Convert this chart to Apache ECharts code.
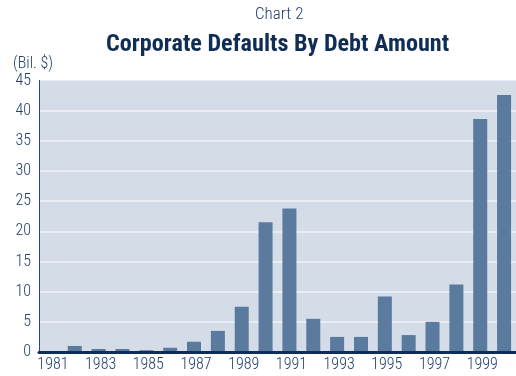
<!DOCTYPE html>
<html>
<head>
<meta charset="utf-8">
<script src="https://cdn.jsdelivr.net/npm/echarts@6/dist/echarts.min.js"></script>
<style>
  html, body { margin: 0; padding: 0; background: #ffffff; }
  #chart { width: 516px; height: 376px; }
</style>
</head>
<body>
<div id="chart"></div>
<script>
// Corporate defaults by debt amount, billions of dollars, 1981-2000
const years = ['1981','1982','1983','1984','1985','1986','1987','1988','1989','1990',
               '1991','1992','1993','1994','1995','1996','1997','1998','1999','2000'];
const defaults = [0, 1.0, 0.5, 0.5, 0.3, 0.7, 1.7, 3.5, 7.5, 21.5,
                  23.8, 5.5, 2.5, 2.5, 9.2, 2.8, 5.0, 11.2, 38.6, 42.6];
const yTicks = [0, 5, 10, 15, 20, 25, 30, 35, 40, 45];

const FONT = '"Roboto Condensed", "DejaVu Sans Condensed", sans-serif';
const NAVY = '#0f2d55';
const TEXT = '#24406a';

const chart = echarts.init(document.getElementById('chart'), null, { renderer: 'canvas' });
chart.setOption({
  animation: false,
  backgroundColor: '#ffffff',
  title: [
    {
      text: 'Chart 2',
      left: 255, top: 6, padding: 0,
      textStyle: { fontFamily: FONT, fontWeight: 300, fontSize: 17, color: TEXT }
    },
    {
      text: 'Corporate Defaults By Debt Amount',
      left: 106, top: 33, padding: 0,
      textStyle: { fontFamily: FONT, fontWeight: 'bold', fontSize: 24.2, color: NAVY }
    },
    {
      text: '(Bil. $)',
      left: 13, top: 56, padding: 0,
      textStyle: { fontFamily: FONT, fontWeight: 300, fontSize: 16, color: TEXT }
    }
  ],
  grid: {
    left: 39, right: -3, top: 80.5, bottom: 24,
    show: true, backgroundColor: '#d3dce7', borderWidth: 0
  },
  xAxis: {
    type: 'category',
    data: years,
    axisTick: { show: false },
    axisLine: { show: true, lineStyle: { color: NAVY, width: 3 } },
    axisLabel: {
      interval: 1,
      margin: 5,
      padding: [0, 0, 0, 4],
      fontFamily: FONT, fontWeight: 300, fontSize: 16, color: TEXT
    },
    z: 5
  },
  yAxis: {
    type: 'value',
    min: yTicks[0], max: yTicks[yTicks.length - 1], interval: 5,
    axisLine: { show: true, lineStyle: { color: '#2b4a72', width: 1 } },
    axisTick: { show: false },
    axisLabel: { margin: 8, fontFamily: FONT, fontWeight: 300, fontSize: 16, color: TEXT },
    splitLine: {
      show: true,
      lineStyle: { color: '#f2f5f9', width: 1.5 },
      showMaxLine: false
    }
  },
  series: [{
    type: 'bar',
    data: defaults,
    barWidth: 14,
    itemStyle: { color: '#5a7a9e' },
    z: 2
  }]
});
</script>
</body>
</html>
